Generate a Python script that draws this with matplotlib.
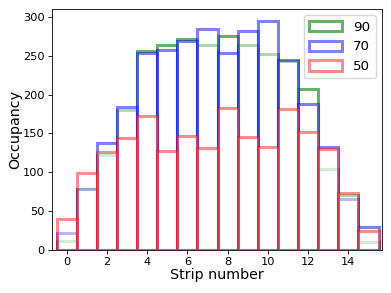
import numpy as np
import matplotlib
matplotlib.use("Agg")
import matplotlib.pyplot as plt

strips = np.arange(16)

occ_90 = [12, 78, 122, 180, 256, 264, 272, 264, 275, 264, 252, 243, 207, 104, 71, 10]
occ_70 = [22, 78, 138, 184, 254, 257, 269, 285, 253, 282, 295, 245, 188, 133, 66, 29]
occ_50 = [40, 99, 126, 144, 173, 128, 147, 131, 183, 146, 133, 182, 152, 130, 73, 25]

series = [("90", occ_90, "g", 0.6), ("70", occ_70, "b", 0.5), ("50", occ_50, "r", 0.45)]

fig, ax = plt.subplots(figsize=(3.91, 2.93), dpi=100)
fig.subplots_adjust(left=0.132, right=0.976, top=0.968, bottom=0.147)

for label, vals, col, a in series:
    ax.bar(strips, vals, width=1.0, facecolor="white", edgecolor=col,
           alpha=a, linewidth=2.2, label=label)

ax.set_xlim(-0.75, 15.65)
ax.set_xticks(np.arange(0, 16, 2))
ax.set_yticks(np.arange(0, 301, 50))
ax.tick_params(labelsize=8.2, length=2.8, width=0.6, pad=2)
for s in ax.spines.values():
    s.set_linewidth(0.6)
ax.set_xlabel("Strip number", fontsize=10.3, labelpad=1)
ax.set_ylabel("Occupancy", fontsize=10.3, labelpad=1)
ax.legend(loc="upper right", fontsize=9.6, handlelength=2.5, handleheight=0.8,
          labelspacing=0.5, borderaxespad=0.45)

fig.savefig("out.png", dpi=100)
